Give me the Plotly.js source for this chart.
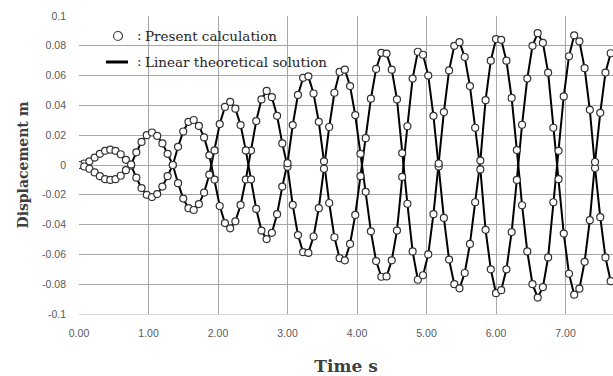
<!DOCTYPE html>
<html>
<head>
<meta charset="utf-8">
<script src="https://cdn.plot.ly/plotly-3.0.1.min.js"></script>
<style>html,body{margin:0;padding:0;background:#fff;}#chart{width:613px;height:376px;}</style>
</head>
<body>
<div id="chart"></div>
<script>
// time samples (s)
var timeS = [0,0.075,0.15,0.225,0.3,0.375,0.45,0.525,0.6,0.675,0.75,0.825,0.9,0.975,1.05,1.125,1.2,1.275,1.35,1.425,1.5,1.575,1.65,1.725,1.8,1.875,1.95,2.025,2.1,2.175,2.25,2.325,2.4,2.475,2.55,2.625,2.7,2.775,2.85,2.925,3.0,3.075,3.15,3.225,3.3,3.375,3.45,3.525,3.6,3.675,3.75,3.825,3.9,3.975,4.05,4.125,4.2,4.275,4.35,4.425,4.5,4.575,4.65,4.725,4.8,4.875,4.95,5.025,5.1,5.175,5.25,5.325,5.4,5.475,5.55,5.625,5.7,5.775,5.85,5.925,6.0,6.075,6.15,6.225,6.3,6.375,6.45,6.525,6.6,6.675,6.75,6.825,6.9,6.975,7.05,7.125,7.2,7.275,7.35,7.425,7.5,7.575,7.65];
// displacement of body 1 (m)
var disp1 = [0,0.001,0.0025,0.005,0.0075,0.0095,0.0103,0.0095,0.0072,0.0035,-0.0004,-0.0085,-0.0155,-0.0200,-0.0215,-0.0195,-0.0145,-0.0075,0.0,0.0122,0.0225,0.0290,0.0302,0.0262,0.0185,0.0065,-0.0098,-0.0275,-0.0390,-0.0425,-0.0378,-0.0268,-0.0098,0.0097,0.0295,0.0440,0.0497,0.0455,0.0330,0.0145,-0.0012,-0.0268,-0.0470,-0.0585,-0.0590,-0.0480,-0.0290,-0.0025,0.0255,0.0485,0.0625,0.0640,0.0530,0.0335,0.0075,-0.0180,-0.0445,-0.0645,-0.0750,-0.0748,-0.0640,-0.0440,-0.0080,0.0260,0.0580,0.0760,0.0740,0.0600,0.0330,-0.0010,-0.0355,-0.0635,-0.0800,-0.0828,-0.0725,-0.0530,-0.0250,0.0030,0.0435,0.0700,0.0845,0.0840,0.0700,0.0450,0.0100,-0.0270,-0.0580,-0.0800,-0.0890,-0.0820,-0.0620,-0.0250,0.0095,0.0460,0.0730,0.0870,0.0830,0.0650,0.0370,-0.0020,-0.0350,-0.0620,-0.0780];
// displacement of body 2 (m)
var disp2 = [0,-0.001,-0.0025,-0.005,-0.0075,-0.0095,-0.0100,-0.0095,-0.0072,-0.0035,0.0004,0.0085,0.0155,0.0200,0.0218,0.0195,0.0145,0.0075,0.0,-0.0122,-0.0225,-0.0290,-0.0302,-0.0262,-0.0185,-0.0065,0.0098,0.0275,0.0390,0.0423,0.0378,0.0268,0.0098,-0.0097,-0.0295,-0.0440,-0.0497,-0.0455,-0.0330,-0.0145,0.0012,0.0268,0.0470,0.0585,0.0595,0.0480,0.0290,0.0025,-0.0255,-0.0485,-0.0625,-0.0640,-0.0530,-0.0335,-0.0075,0.0180,0.0445,0.0645,0.0753,0.0748,0.0640,0.0440,0.0080,-0.0260,-0.0580,-0.0770,-0.0740,-0.0600,-0.0330,0.0010,0.0355,0.0635,0.0800,0.0824,0.0725,0.0530,0.0250,-0.0030,-0.0435,-0.0700,-0.0860,-0.0840,-0.0700,-0.0450,-0.0100,0.0270,0.0580,0.0800,0.0885,0.0820,0.0620,0.0250,-0.0095,-0.0460,-0.0730,-0.0870,-0.0830,-0.0650,-0.0370,0.0020,0.0350,0.0620,0.0750];

var xTickVals = [0,1,2,3,4,5,6,7];
var xTickText = ["0.00","1.00","2.00","3.00","4.00","5.00","6.00","7.00"];
var yTickVals = [0.1,0.08,0.06,0.04,0.02,0,-0.02,-0.04,-0.06,-0.08,-0.1];
var yTickText = ["0.1","0.08","0.06","0.04","0.02","0","-0.02","-0.04","-0.06","-0.08","-0.1"];
var legendLabels = ["Present calculation","Linear theoretical solution"];
var xTitle = "Time s";
var yTitle = "Displacement m";

var lineStyle = {color:"#000", width:2};
var markerStyle = {symbol:"circle", size:7, color:"#fff", line:{color:"#333", width:1.2}};

var traces = [
  {x:timeS, y:disp1, mode:"lines", line:lineStyle, hoverinfo:"skip"},
  {x:timeS, y:disp2, mode:"lines", line:lineStyle, hoverinfo:"skip"},
  {x:timeS, y:disp1, mode:"markers", marker:markerStyle, hoverinfo:"skip"},
  {x:timeS, y:disp2, mode:"markers", marker:markerStyle, hoverinfo:"skip"}
];

var L = 79, W = 534, T = 16, H = 298;
function px(X){return (X-L)/W;}
function py(Y){return (T+H-Y)/H;}

var legendFont = {family:"DejaVu Serif, serif", size:13.5, color:"#262626"};

var layout = {
  width:613, height:376,
  margin:{l:L, r:0, t:T, b:376-T-H, pad:0},
  paper_bgcolor:"#fff", plot_bgcolor:"#fff",
  showlegend:false,
  xaxis:{
    range:[0, W/69.5], tickvals:xTickVals, ticktext:xTickText,
    showgrid:true, gridcolor:"#a6a6a6", gridwidth:1, zeroline:false,
    showline:true, linecolor:"#d9d9d9", linewidth:1, mirror:false,
    ticks:"", ticklabelstandoff:9,
    tickfont:{family:"Liberation Sans, Arial, sans-serif", size:10.5, color:"#595959"},
    title:{text:"<b>"+xTitle+"</b>", standoff:22, font:{family:"DejaVu Serif, serif", size:17, color:"#404040"}}
  },
  yaxis:{
    range:[-0.1,0.1], tickvals:yTickVals, ticktext:yTickText,
    showgrid:true, gridcolor:"#a6a6a6", gridwidth:1, zeroline:false,
    showline:false, ticks:"", ticklabelstandoff:12,
    tickfont:{family:"Liberation Sans, Arial, sans-serif", size:10.5, color:"#595959"},
    title:{text:"<b>"+yTitle+"</b>", standoff:10, font:{family:"DejaVu Serif, serif", size:14, color:"#404040"}}
  },
  shapes:[
    {type:"rect", xref:"paper", yref:"paper", x0:px(97), x1:px(333), y0:py(73), y1:1.0, fillcolor:"#fff", line:{width:0}, layer:"between"},
    {type:"circle", xref:"paper", yref:"paper", xsizemode:"pixel", ysizemode:"pixel", xanchor:px(118), yanchor:py(36), x0:-4.5, x1:4.5, y0:-4.5, y1:4.5, fillcolor:"#fff", line:{color:"#404040", width:1.2}, layer:"above"},
    {type:"line", xref:"paper", yref:"paper", x0:px(106), x1:px(128), y0:py(62), y1:py(62), line:{color:"#000", width:3}, layer:"above"}
  ],
  annotations:[
    {xref:"paper", yref:"paper", x:px(139), y:py(35), xanchor:"center", yanchor:"middle", text:":", showarrow:false, font:legendFont},
    {xref:"paper", yref:"paper", x:px(143), y:py(36), xanchor:"left", yanchor:"middle", text:legendLabels[0], showarrow:false, font:legendFont},
    {xref:"paper", yref:"paper", x:px(139), y:py(61), xanchor:"center", yanchor:"middle", text:":", showarrow:false, font:legendFont},
    {xref:"paper", yref:"paper", x:px(143), y:py(62), xanchor:"left", yanchor:"middle", text:legendLabels[1], showarrow:false, font:legendFont}
  ]
};

Plotly.newPlot("chart", traces, layout, {staticPlot:true, displayModeBar:false});
</script>
</body>
</html>
